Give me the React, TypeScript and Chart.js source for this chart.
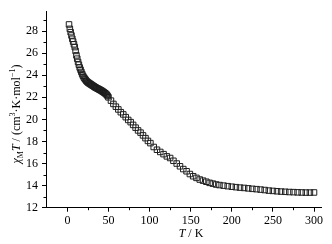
import React, { useEffect, useRef } from "react";
import { Chart, registerables } from "chart.js";
Chart.register(...registerables);

const temperatureK = [
  2, 3, 4, 5, 6, 7, 8, 9, 10, 11, 12, 13, 14, 15, 16, 17, 18, 19, 20, 21, 22, 23, 24, 25, 26,
  27, 28, 29, 30, 31, 32, 33, 34, 35, 36, 37, 38, 39, 40, 41, 42, 43, 44, 45, 46, 47, 48, 49, 50,
  53, 56, 59, 62, 65, 68, 71, 74, 77, 80, 83, 86, 89, 92, 95, 98, 101, 105, 109, 113, 117, 121,
  125, 129, 133, 137, 141, 145, 149, 153, 157, 161, 165, 169, 173, 177, 181, 185, 190, 195, 200,
  205, 210, 215, 220, 225, 230, 235, 240, 245, 250, 255, 260, 265, 270, 275, 280, 285, 290, 295, 300,
];
const chiMT = [
  28.6, 28.2, 27.9, 27.6, 27.3, 27.05, 26.8, 26.55, 26.2, 25.8, 25.5, 25.2, 24.95, 24.7, 24.5,
  24.3, 24.1, 23.95, 23.8, 23.7, 23.6, 23.5, 23.42, 23.35, 23.3, 23.25, 23.2, 23.15, 23.1, 23.05,
  23.0, 22.95, 22.9, 22.86, 22.82, 22.78, 22.74, 22.7, 22.66, 22.62, 22.57, 22.52, 22.47, 22.42,
  22.36, 22.3, 22.22, 22.12, 22.0,
  21.7, 21.4, 21.15, 20.9, 20.65, 20.45, 20.2, 19.95, 19.75, 19.5, 19.25, 19.0, 18.8, 18.55,
  18.3, 18.05, 17.85, 17.5, 17.25, 17.05, 16.85, 16.65, 16.5, 16.25, 16.0, 15.75, 15.5, 15.3,
  15.05, 14.85, 14.7, 14.55, 14.45, 14.35, 14.25, 14.18, 14.1, 14.05, 14.0, 13.95, 13.9,
  13.86, 13.82, 13.79, 13.75, 13.71, 13.68, 13.64, 13.6, 13.55, 13.52, 13.49, 13.46, 13.44,
  13.42, 13.41, 13.39, 13.38, 13.37, 13.37, 13.38,
];
const xTicks = [0, 50, 100, 150, 200, 250, 300];
const yTicks = [12, 14, 16, 18, 20, 22, 24, 26, 28];
const xMinor = [25, 75, 125, 175, 225, 275];
const yMinor = [13, 15, 17, 19, 21, 23, 25, 27, 29];

const FONT = "'Liberation Serif', 'Times New Roman', serif";

const decorPlugin = {
  id: "decor",
  afterDraw(chart: any) {
    const ctx = chart.ctx as CanvasRenderingContext2D;
    const xs = chart.scales.x;
    const ys = chart.scales.y;
    const area = chart.chartArea;
    ctx.save();
    ctx.strokeStyle = "#000";
    ctx.lineWidth = 1;
    ctx.beginPath();
    for (const v of xMinor) {
      const px = Math.round(xs.getPixelForValue(v)) + 0.5;
      ctx.moveTo(px, area.bottom);
      ctx.lineTo(px, area.bottom + 2.5);
    }
    for (const v of yMinor) {
      const py = Math.round(ys.getPixelForValue(v)) + 0.5;
      ctx.moveTo(area.left, py);
      ctx.lineTo(area.left - 2.5, py);
    }
    ctx.stroke();

    // X title
    ctx.fillStyle = "#000";
    ctx.textBaseline = "alphabetic";
    const xSegs = [
      { t: "T", f: `italic 12px ${FONT}`, dy: 0 },
      { t: " / K", f: `12px ${FONT}`, dy: 0 },
    ];
    let w = 0;
    for (const s of xSegs) { ctx.font = s.f; w += ctx.measureText(s.t).width; }
    let cx = 191 - w / 2;
    for (const s of xSegs) {
      ctx.font = s.f;
      ctx.fillText(s.t, cx, 237 + s.dy);
      cx += ctx.measureText(s.t).width;
    }

    // Y title (rotated)
    const ySegs = [
      { t: "χ", f: `italic 12px ${FONT}`, dy: 0 },
      { t: "M", f: `8px ${FONT}`, dy: 3 },
      { t: "T", f: `italic 12px ${FONT}`, dy: 0 },
      { t: " / (cm", f: `12px ${FONT}`, dy: 0 },
      { t: "3", f: `8px ${FONT}`, dy: -5 },
      { t: "·K·mol", f: `12px ${FONT}`, dy: 0 },
      { t: "−1", f: `8px ${FONT}`, dy: -5 },
      { t: ")", f: `12px ${FONT}`, dy: 0 },
    ];
    ctx.translate(20, 114);
    ctx.rotate(-Math.PI / 2);
    w = 0;
    for (const s of ySegs) { ctx.font = s.f; w += ctx.measureText(s.t).width; }
    cx = -w / 2;
    for (const s of ySegs) {
      ctx.font = s.f;
      ctx.fillText(s.t, cx, s.dy);
      cx += ctx.measureText(s.t).width;
    }
    ctx.restore();
  },
};

export default function App() {
  const ref = useRef<HTMLCanvasElement>(null);
  useEffect(() => {
    document.body.style.margin = "0";
    const canvas = ref.current;
    if (!canvas) return;
    const chart = new Chart(canvas, {
      type: "scatter",
      data: {
        datasets: [
          {
            data: temperatureK.map((t, i) => ({ x: t, y: chiMT[i] })),
            pointStyle: "rect",
            pointRadius: 3.9,
            pointBorderWidth: 1,
            pointBorderColor: "#1e1e1e",
            pointBackgroundColor: "rgba(255,255,255,0)",
            showLine: false,
          },
        ],
      },
      options: {
        responsive: false,
        animation: false,
        events: [],
        layout: { padding: { top: 6, right: 11, left: 0, bottom: 0 } },
        plugins: { legend: { display: false }, tooltip: { enabled: false } },
        scales: {
          x: {
            type: "linear",
            min: -26,
            max: 308.5,
            afterBuildTicks: (s: any) => { s.ticks = xTicks.map((v) => ({ value: v })); },
            afterFit: (s: any) => { s.height = 36.3; },
            grid: { drawOnChartArea: false, tickLength: 4, color: "#000", lineWidth: 1 },
            border: { color: "#000", width: 1 },
            ticks: { font: { family: FONT, size: 12 }, color: "#000", padding: 2, maxRotation: 0, autoSkip: false },
          },
          y: {
            type: "linear",
            min: 12,
            max: 29.8,
            afterBuildTicks: (s: any) => { s.ticks = yTicks.map((v) => ({ value: v })); },
            afterFit: (s: any) => { s.width = 46; },
            grid: { drawOnChartArea: false, tickLength: 4, color: "#000", lineWidth: 1 },
            border: { color: "#000", width: 1 },
            ticks: { font: { family: FONT, size: 12 }, color: "#000", padding: 4, autoSkip: false },
          },
        },
      },
      plugins: [decorPlugin],
    });
    return () => chart.destroy();
  }, []);
  return (
    <div style={{ width: 332, height: 244, position: "relative", background: "#fff" }}>
      <canvas ref={ref} width={332} height={244} style={{ display: "block", width: 332, height: 244 }} />
    </div>
  );
}
